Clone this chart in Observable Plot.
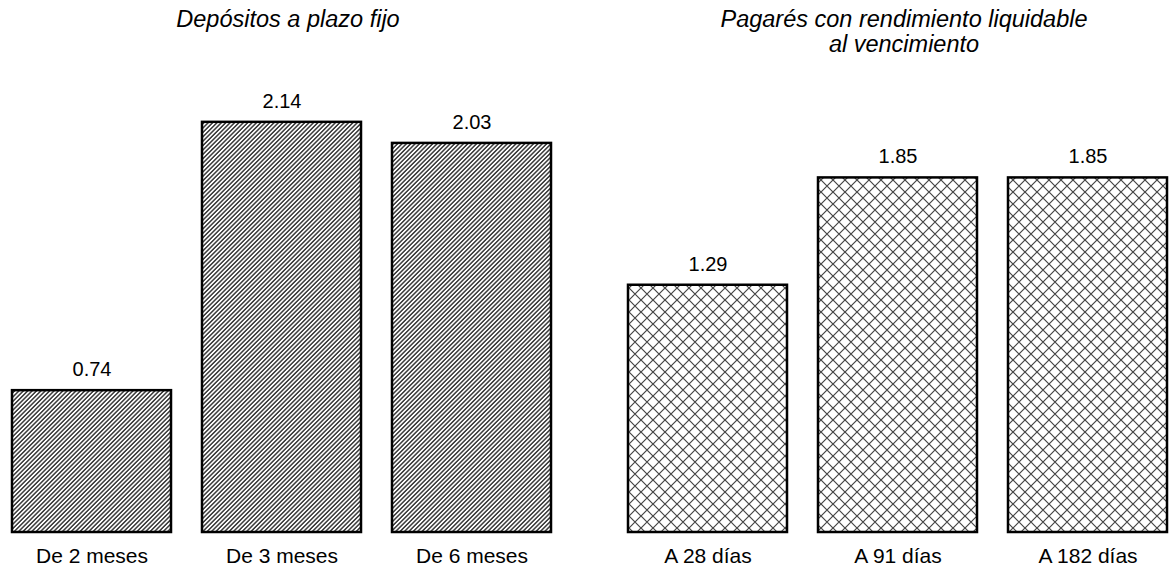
<!DOCTYPE html>
<html><head><meta charset="utf-8">
<script src="https://cdn.jsdelivr.net/npm/d3@7"></script>
<script src="https://cdn.jsdelivr.net/npm/@observablehq/plot@0.6"></script>
<style>body{margin:0;background:#fff;font-family:"Liberation Sans",Arial,sans-serif}</style>
</head><body><div id="chart"></div>
<script>
const groups = ["Depósitos a plazo fijo", "Pagarés con rendimiento liquidable\nal vencimiento"];
const categoriesDepositos = ["De 2 meses", "De 3 meses", "De 6 meses"];
const valuesDepositos = [0.74, 2.14, 2.03];
const categoriesPagares = ["A 28 días", "A 91 días", "A 182 días"];
const valuesPagares = [1.29, 1.85, 1.85];

const depositos = categoriesDepositos.map((c, i) => ({group: groups[0], pos: i, category: c, value: valuesDepositos[i]}));
const pagares = categoriesPagares.map((c, i) => ({group: groups[1], pos: i, category: c, value: valuesPagares[i]}));
const data = depositos.concat(pagares);

const plot = Plot.plot({
  width: 1169, height: 575,
  marginLeft: 10, marginRight: 1, marginTop: 72, marginBottom: 43,
  style: {fontFamily: "Liberation Sans, Arial, sans-serif", background: "#fff"},
  fx: {domain: groups, paddingInner: 0.122, paddingOuter: 0, axis: null},
  x: {domain: [0, 1, 2], paddingInner: 0.162, paddingOuter: 0, axis: null},
  y: {domain: [0, 2.4], axis: null},
  marks: [
    Plot.barY(depositos, {fx: "group", x: "pos", y: "value", fill: "url(#hatch)", stroke: "black", strokeWidth: 2.5}),
    Plot.barY(pagares, {fx: "group", x: "pos", y: "value", fill: "url(#cross)", stroke: "black", strokeWidth: 2.5}),
    Plot.text(data, {fx: "group", x: "pos", y: "value", text: d => d.value.toFixed(2), dy: -21, fontSize: 20}),
    Plot.text(data, {fx: "group", x: "pos", text: "category", frameAnchor: "bottom", dy: 30, fontSize: 21}),
    Plot.text(groups, {fx: d => d, text: d => d, frameAnchor: "top", lineAnchor: "top", dx: 6, dy: -63, fontSize: 23.5, fontStyle: "italic", lineHeight: 1.06})
  ]
});

const svg = plot.tagName.toLowerCase() === "svg" ? plot : plot.querySelector("svg");
d3.select(svg).insert("defs", ":first-child").html(`
  <pattern id="hatch" patternUnits="userSpaceOnUse" width="3.1" height="3.1" patternTransform="rotate(45)">
    <rect width="3.1" height="3.1" fill="#fff"/>
    <line x1="0.8" y1="-1" x2="0.8" y2="5" stroke="#3a3a3a" stroke-width="1.5"/>
  </pattern>
  <pattern id="cross" patternUnits="userSpaceOnUse" width="12" height="12">
    <rect width="12" height="12" fill="#fff"/>
    <path d="M-1,-1L13,13M13,-1L-1,13" stroke="#444" stroke-width="1.2" fill="none"/>
  </pattern>
`);
document.getElementById("chart").appendChild(plot);
</script>
</body></html>
